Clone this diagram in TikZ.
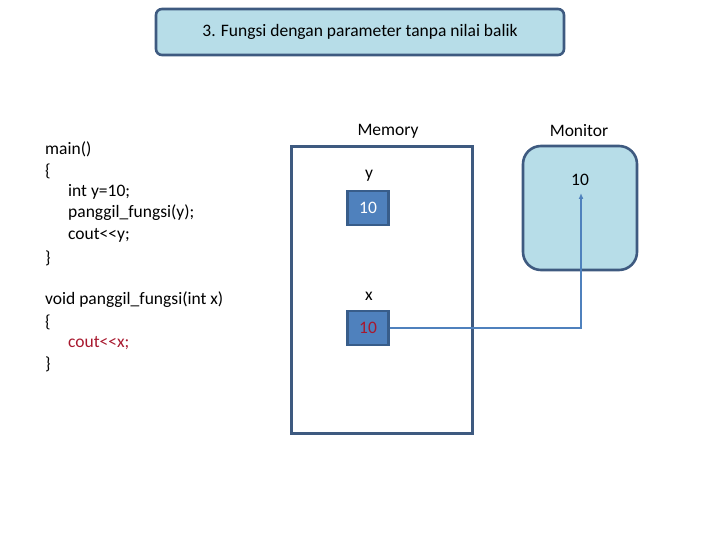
\documentclass[tikz,border=0pt]{standalone}
\usepackage{fontspec}
\setmainfont{Carlito}
\usepackage{xcolor}
\usepackage{tikz}
\usetikzlibrary{arrows.meta}
\definecolor{frame}{HTML}{3E5A80}
\definecolor{pale}{HTML}{B7DDE8}
\definecolor{cell}{HTML}{4F81BD}
\definecolor{celledge}{HTML}{385D8A}
\definecolor{codered}{HTML}{A8182E}
\newcommand{\txtsize}{\fontsize{17.5}{20}\selectfont}
\tikzset{
  titlebox/.style={draw=frame, fill=pale, line width=2.6pt, rounded corners=6pt,
    minimum width=408pt, minimum height=46pt, font=\txtsize},
  memframe/.style={draw=frame, line width=2.6pt, minimum width=181pt, minimum height=287pt},
  monframe/.style={draw=frame, fill=pale, line width=2.6pt, rounded corners=18pt,
    minimum width=114pt, minimum height=124pt},
  valbox/.style={draw=celledge, fill=cell, line width=2.2pt, minimum width=41pt,
    minimum height=34pt, font=\txtsize},
  lbl/.style={font=\txtsize},
  code/.style={anchor=west, inner sep=0pt, font=\txtsize},
  arr/.style={draw=cell, line width=1.3pt, -{Latex[length=6pt,width=5pt]}}
}
\begin{document}
\begin{tikzpicture}[x=1pt,y=-1pt]
  \useasboundingbox (0,0) rectangle (720,540);

  \node[titlebox] (title) at (360,32) {3. Fungsi dengan parameter tanpa nilai balik};

  \node[code] (l1) at (45,149) {main()};
  \node[code] (l2) at (45,171) {\{};
  \node[code] (l3) at (68,192) {int y=10;};
  \node[code] (l4) at (68,213) {panggil\_fungsi(y);};
  \node[code] (l5) at (68,235) {cout<{}<y;};
  \node[code] (l6) at (45,258) {\}};
  \node[code] (l7) at (45,300) {void panggil\_fungsi(int x)};
  \node[code] (l8) at (45,322) {\{};
  \node[code, text=codered] (l9) at (68,343) {cout<{}<x;};
  \node[code] (l10) at (45,364) {\}};

  \node[memframe] (mem) at (382,290) {};
  \node[lbl] (memlbl) at (388,131) {Memory};
  \node[lbl] (ylbl) at (369,176) {y};
  \node[valbox, text=white] (yval) at (368,208) {10};
  \node[lbl] (xlbl) at (369,296) {x};
  \node[valbox, text=codered] (xval) at (368,328) {10};

  \node[monframe] (mon) at (580,208) {};
  \node[lbl] (monlbl) at (579,131) {Monitor};
  \node[lbl] (mon10) at (580,180) {10};
  \coordinate (tip) at (581,193);

  \draw[arr] (xval.east) -| (tip);
\end{tikzpicture}
\end{document}
